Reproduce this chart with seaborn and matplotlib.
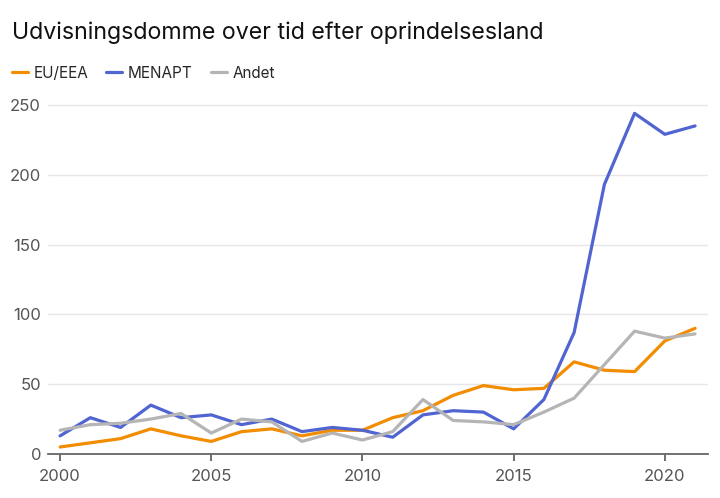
"""Udvisningsdomme over tid efter oprindelsesland."""

import matplotlib

matplotlib.use("Agg")
import matplotlib.pyplot as plt
import pandas as pd
import seaborn as sns

years = list(range(2000, 2022))
eu_eea = [5, 8, 11, 18, 13, 9, 16, 18, 13, 17, 17, 26, 31, 42, 49, 46, 47, 66, 60, 59, 81, 90]
menapt = [13, 26, 19, 35, 26, 28, 21, 25, 16, 19, 17, 12, 28, 31, 30, 18, 39, 87, 193, 244, 229, 235]
andet = [17, 21, 22, 25, 29, 15, 25, 23, 9, 15, 10, 16, 39, 24, 23, 21, 30, 40, 64, 88, 83, 86]
series_names = ["EU/EEA", "MENAPT", "Andet"]
palette = {"EU/EEA": "#F28C00", "MENAPT": "#5064D2", "Andet": "#B5B5B5"}

frame = pd.DataFrame(
    {"year": years * 3,
     "value": eu_eea + menapt + andet,
     "group": [n for n in series_names for _ in years]}
)

sns.set_theme(style="white")
plt.rcParams["font.family"] = ["Inter", "DejaVu Sans"]

fig = plt.figure(figsize=(7.2, 4.98), dpi=100)
ax = fig.add_axes([0.0667, 0.0884, 0.9163, 0.7232])

sns.lineplot(data=frame, x="year", y="value", hue="group", hue_order=series_names,
             palette=palette, linewidth=2.3, ax=ax)

ax.set_xlim(1999.6, 2021.42)
ax.set_ylim(0, 258)
ax.set_xticks([2000, 2005, 2010, 2015, 2020])
ax.set_yticks([0, 50, 100, 150, 200, 250])
ax.set_xlabel("")
ax.set_ylabel("")
ax.yaxis.grid(True, color="#e6e6e6", linewidth=1)
ax.set_axisbelow(True)
for side in ["top", "right", "left"]:
    ax.spines[side].set_visible(False)
ax.spines["bottom"].set_color("#666666")
ax.spines["bottom"].set_linewidth(1.3)
ax.tick_params(axis="x", colors="#555555", labelsize=12, length=5, width=1.2, pad=6,
               bottom=True, direction="out")
ax.tick_params(axis="y", colors="#555555", labelsize=12, length=0, pad=5)
for lbl in ax.get_xticklabels() + ax.get_yticklabels():
    lbl.set_color("#555555")

sns.move_legend(ax, "center left", bbox_to_anchor=(0.0165, 0.853),
                bbox_transform=fig.transFigure, ncol=3, frameon=False, title=None,
                fontsize=11, handlelength=1.05, handletextpad=0.35, columnspacing=1.2,
                borderaxespad=0, borderpad=0)

fig.text(0.016, 0.935, "Udvisningsdomme over tid efter oprindelsesland",
         fontsize=16.7, color="#111111", va="center", ha="left")

fig.savefig("out.png", dpi=100)
